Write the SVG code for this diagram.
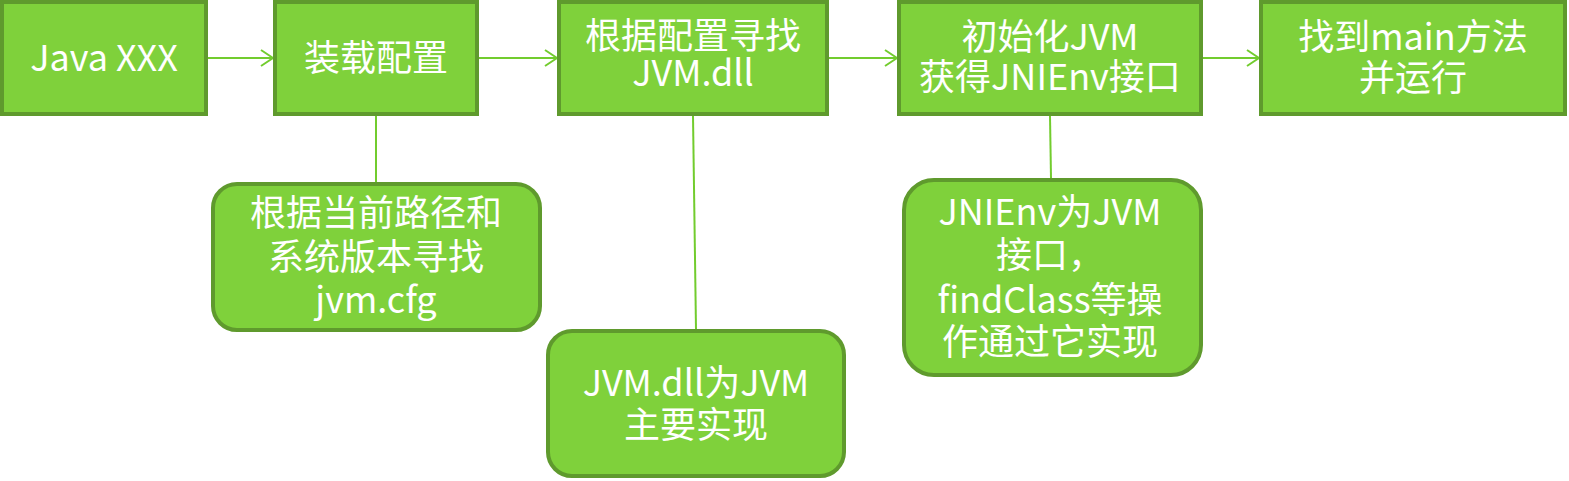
<svg xmlns="http://www.w3.org/2000/svg" width="1569" height="481" viewBox="0 0 1569 481">
<defs>
<style>
.box{fill:#7fd13b;stroke:#5f9a2d;stroke-width:4}
.t{fill:#ffffff;font-family:"Noto Sans CJK SC","Noto Sans",sans-serif;font-size:36px;text-anchor:middle}
.c{stroke:#72cc2e;stroke-width:2;fill:none}
</style>
<marker id="ah" viewBox="0 0 14 18" refX="13" refY="9" markerWidth="14" markerHeight="18" markerUnits="userSpaceOnUse" orient="auto">
<path d="M1,1 L13,9 L1,17" fill="none" stroke="#72cc2e" stroke-width="2"/>
</marker>
</defs>
<rect width="1569" height="481" fill="#ffffff"/>
<g id="connectors">
<line class="c" x1="207" y1="58" x2="273" y2="58" marker-end="url(#ah)"/>
<line class="c" x1="479" y1="58" x2="557" y2="58" marker-end="url(#ah)"/>
<line class="c" x1="829" y1="58" x2="897" y2="58" marker-end="url(#ah)"/>
<line class="c" x1="1203" y1="58" x2="1259" y2="58" marker-end="url(#ah)"/>
<line class="c" x1="376" y1="116" x2="376" y2="182"/>
<line class="c" x1="693" y1="116" x2="696" y2="329"/>
<line class="c" x1="1050" y1="116" x2="1051" y2="178"/>
</g>
<g id="n1">
<rect class="box" x="2" y="2" width="204" height="112"/>
<text class="t" x="104" y="71">Java XXX</text>
</g>
<g id="n2">
<rect class="box" x="275" y="2" width="202" height="112"/>
<text class="t" x="376" y="71">装载配置</text>
</g>
<g id="n3">
<rect class="box" x="559" y="2" width="268" height="112"/>
<text class="t" x="693" y="49">根据配置寻找</text>
<text class="t" x="693" y="86">JVM.dll</text>
</g>
<g id="n4">
<rect class="box" x="899" y="2" width="302" height="112"/>
<text class="t" x="1050" y="50">初始化JVM</text>
<text class="t" x="1050" y="90">获得JNIEnv接口</text>
</g>
<g id="n5">
<rect class="box" x="1261" y="2" width="304" height="112"/>
<text class="t" x="1413" y="50">找到main方法</text>
<text class="t" x="1413" y="91">并运行</text>
</g>
<g id="n6">
<rect class="box" x="213" y="184" width="327" height="146" rx="24" ry="24"/>
<text class="t" x="376" y="226">根据当前路径和</text>
<text class="t" x="376" y="270">系统版本寻找</text>
<text class="t" x="376" y="313">jvm.cfg</text>
</g>
<g id="n7">
<rect class="box" x="548" y="331" width="296" height="145" rx="24" ry="24"/>
<text class="t" x="696" y="396">JVM.dll为JVM</text>
<text class="t" x="696" y="438">主要实现</text>
</g>
<g id="n8">
<rect class="box" x="904" y="180" width="297" height="195" rx="30" ry="30"/>
<text class="t" x="1050" y="225">JNIEnv为JVM</text>
<text class="t" x="1050" y="268">接口，</text>
<text class="t" x="1050" y="313">findClass等操</text>
<text class="t" x="1050" y="355">作通过它实现</text>
</g>
</svg>
